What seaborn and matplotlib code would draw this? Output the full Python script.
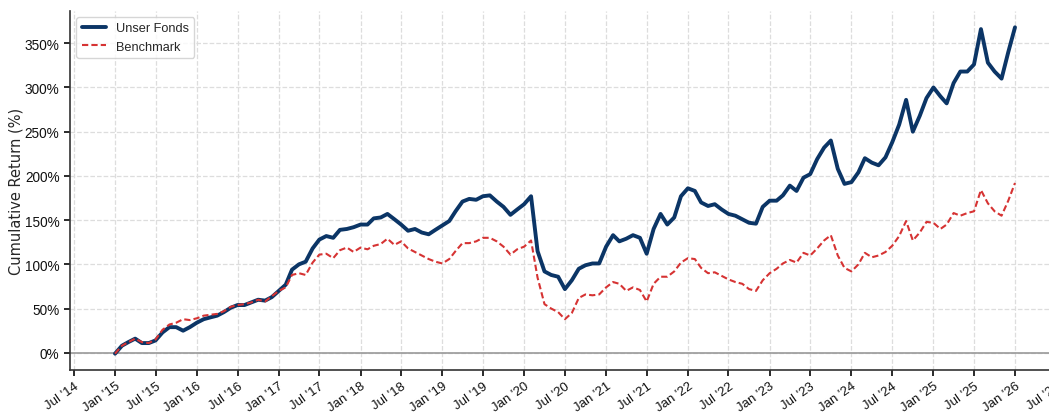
import pandas as pd
import matplotlib
matplotlib.use("Agg")
import matplotlib.pyplot as plt
import matplotlib.dates as mdates
from matplotlib.ticker import FuncFormatter
import seaborn as sns

# Monthly readings, Jan 2015 .. Dec 2025, plus the last day of 2025
dates = list(pd.date_range("2015-01-01", "2025-12-01", freq="MS")) + [pd.Timestamp("2025-12-31")]

fund = [
    -1, 8, 12, 16, 11, 11, 14, 23, 29, 29, 25, 29,          # 2015
    34, 38, 40, 42, 46, 51, 54, 54, 57, 60, 59, 63,         # 2016
    70, 77, 94, 100, 103, 118, 128, 132, 130, 139, 140, 142,  # 2017
    145, 145, 152, 153, 157, 151, 145, 138, 140, 136, 134, 139,  # 2018
    144, 149, 160, 171, 174, 173, 177, 178, 171, 165, 156, 162,  # 2019
    168, 177, 115, 92, 88, 86, 72, 82, 95, 99, 101, 101,    # 2020
    120, 133, 126, 129, 133, 130, 112, 140, 157, 145, 153, 177,  # 2021
    186, 183, 170, 166, 168, 162, 157, 155, 151, 147, 146, 165,  # 2022
    172, 172, 178, 189, 183, 198, 202, 219, 232, 240, 208, 191,  # 2023
    193, 204, 220, 215, 212, 221, 238, 258, 286, 250, 268, 288,  # 2024
    300, 290, 282, 305, 318, 318, 326, 366, 328, 318, 310, 340,  # 2025
    368,
]
bench = [
    -1, 8, 12, 16, 12, 11, 15, 26, 32, 34, 38, 37,
    39, 42, 43, 44, 47, 52, 54, 55, 57, 60, 58, 64,
    70, 74, 88, 90, 88, 102, 111, 112, 107, 116, 119, 114,
    119, 117, 121, 123, 129, 122, 126, 118, 114, 110, 106, 103,
    101, 106, 115, 124, 124, 126, 130, 130, 126, 120, 111, 117,
    120, 127, 85, 55, 50, 46, 38, 45, 62, 66, 65, 66,
    74, 80, 78, 70, 74, 71, 58, 78, 86, 86, 92, 102,
    107, 106, 96, 90, 91, 87, 83, 80, 78, 72, 70, 82,
    90, 95, 101, 105, 102, 113, 110, 118, 127, 133, 110, 96,
    92, 100, 113, 108, 110, 114, 121, 132, 149, 127, 136, 148,
    147, 140, 145, 158, 155, 158, 160, 184, 169, 160, 155, 172,
    192,
]
series_names = ["Unser Fonds", "Benchmark"]
colors = {"Unser Fonds": "#0b3566", "Benchmark": "#d63333"}

df = pd.DataFrame({"Datum": dates, series_names[0]: fund, series_names[1]: bench})
long = df.melt(id_vars="Datum", var_name="Serie", value_name="Rendite")

sns.set_theme(style="ticks")
plt.rcParams["font.family"] = ["Liberation Sans", "DejaVu Sans"]

fig = plt.figure(figsize=(10.49, 4.14), dpi=100)
ax = fig.add_axes([70 / 1049, 43 / 414, 990 / 1049, 359 / 414])

sns.lineplot(data=long, x="Datum", y="Rendite", hue="Serie", style="Serie",
             palette=colors,
             dashes={"Unser Fonds": "", "Benchmark": (3, 1.5)},
             size="Serie", sizes={"Unser Fonds": 2.8, "Benchmark": 1.5},
             ax=ax, legend=False)

ax.axhline(0, color="#999999", linewidth=1.2, zorder=1)
ax.grid(True, linestyle="--", color="#dddddd", linewidth=0.9)

ax.xaxis.set_major_locator(mdates.MonthLocator(bymonth=[1, 7]))
ax.xaxis.set_major_formatter(mdates.DateFormatter("%b '%y"))
ax.yaxis.set_major_formatter(FuncFormatter(lambda v, p: f"{v:.0f}%"))
ax.set_yticks(range(0, 351, 50))
plt.setp(ax.get_xticklabels(), rotation=35, ha="right", rotation_mode="anchor", fontsize=9.5)
plt.setp(ax.get_yticklabels(), fontsize=9.8)

ax.set_xlabel("")
ax.set_ylabel("Cumulative Return (%)", fontsize=10.5, family="DejaVu Sans")
ax.yaxis.set_label_coords(-0.0465, 0.5)
for s in ["top", "right"]:
    ax.spines[s].set_visible(False)
for s in ["left", "bottom"]:
    ax.spines[s].set_color("#333333")
    ax.spines[s].set_linewidth(1.2)
ax.tick_params(colors="#111111", length=4)
ax.tick_params(axis="x", pad=3)

handles = [plt.Line2D([], [], color=colors["Unser Fonds"], lw=2.8),
           plt.Line2D([], [], color=colors["Benchmark"], lw=1.5, dashes=(3, 1.5))]
ax.legend(handles, series_names, loc="upper left", fontsize=9.2, frameon=True,
          fancybox=True, edgecolor="#cccccc", handlelength=1.9)

fig.savefig("out.png", dpi=100)
